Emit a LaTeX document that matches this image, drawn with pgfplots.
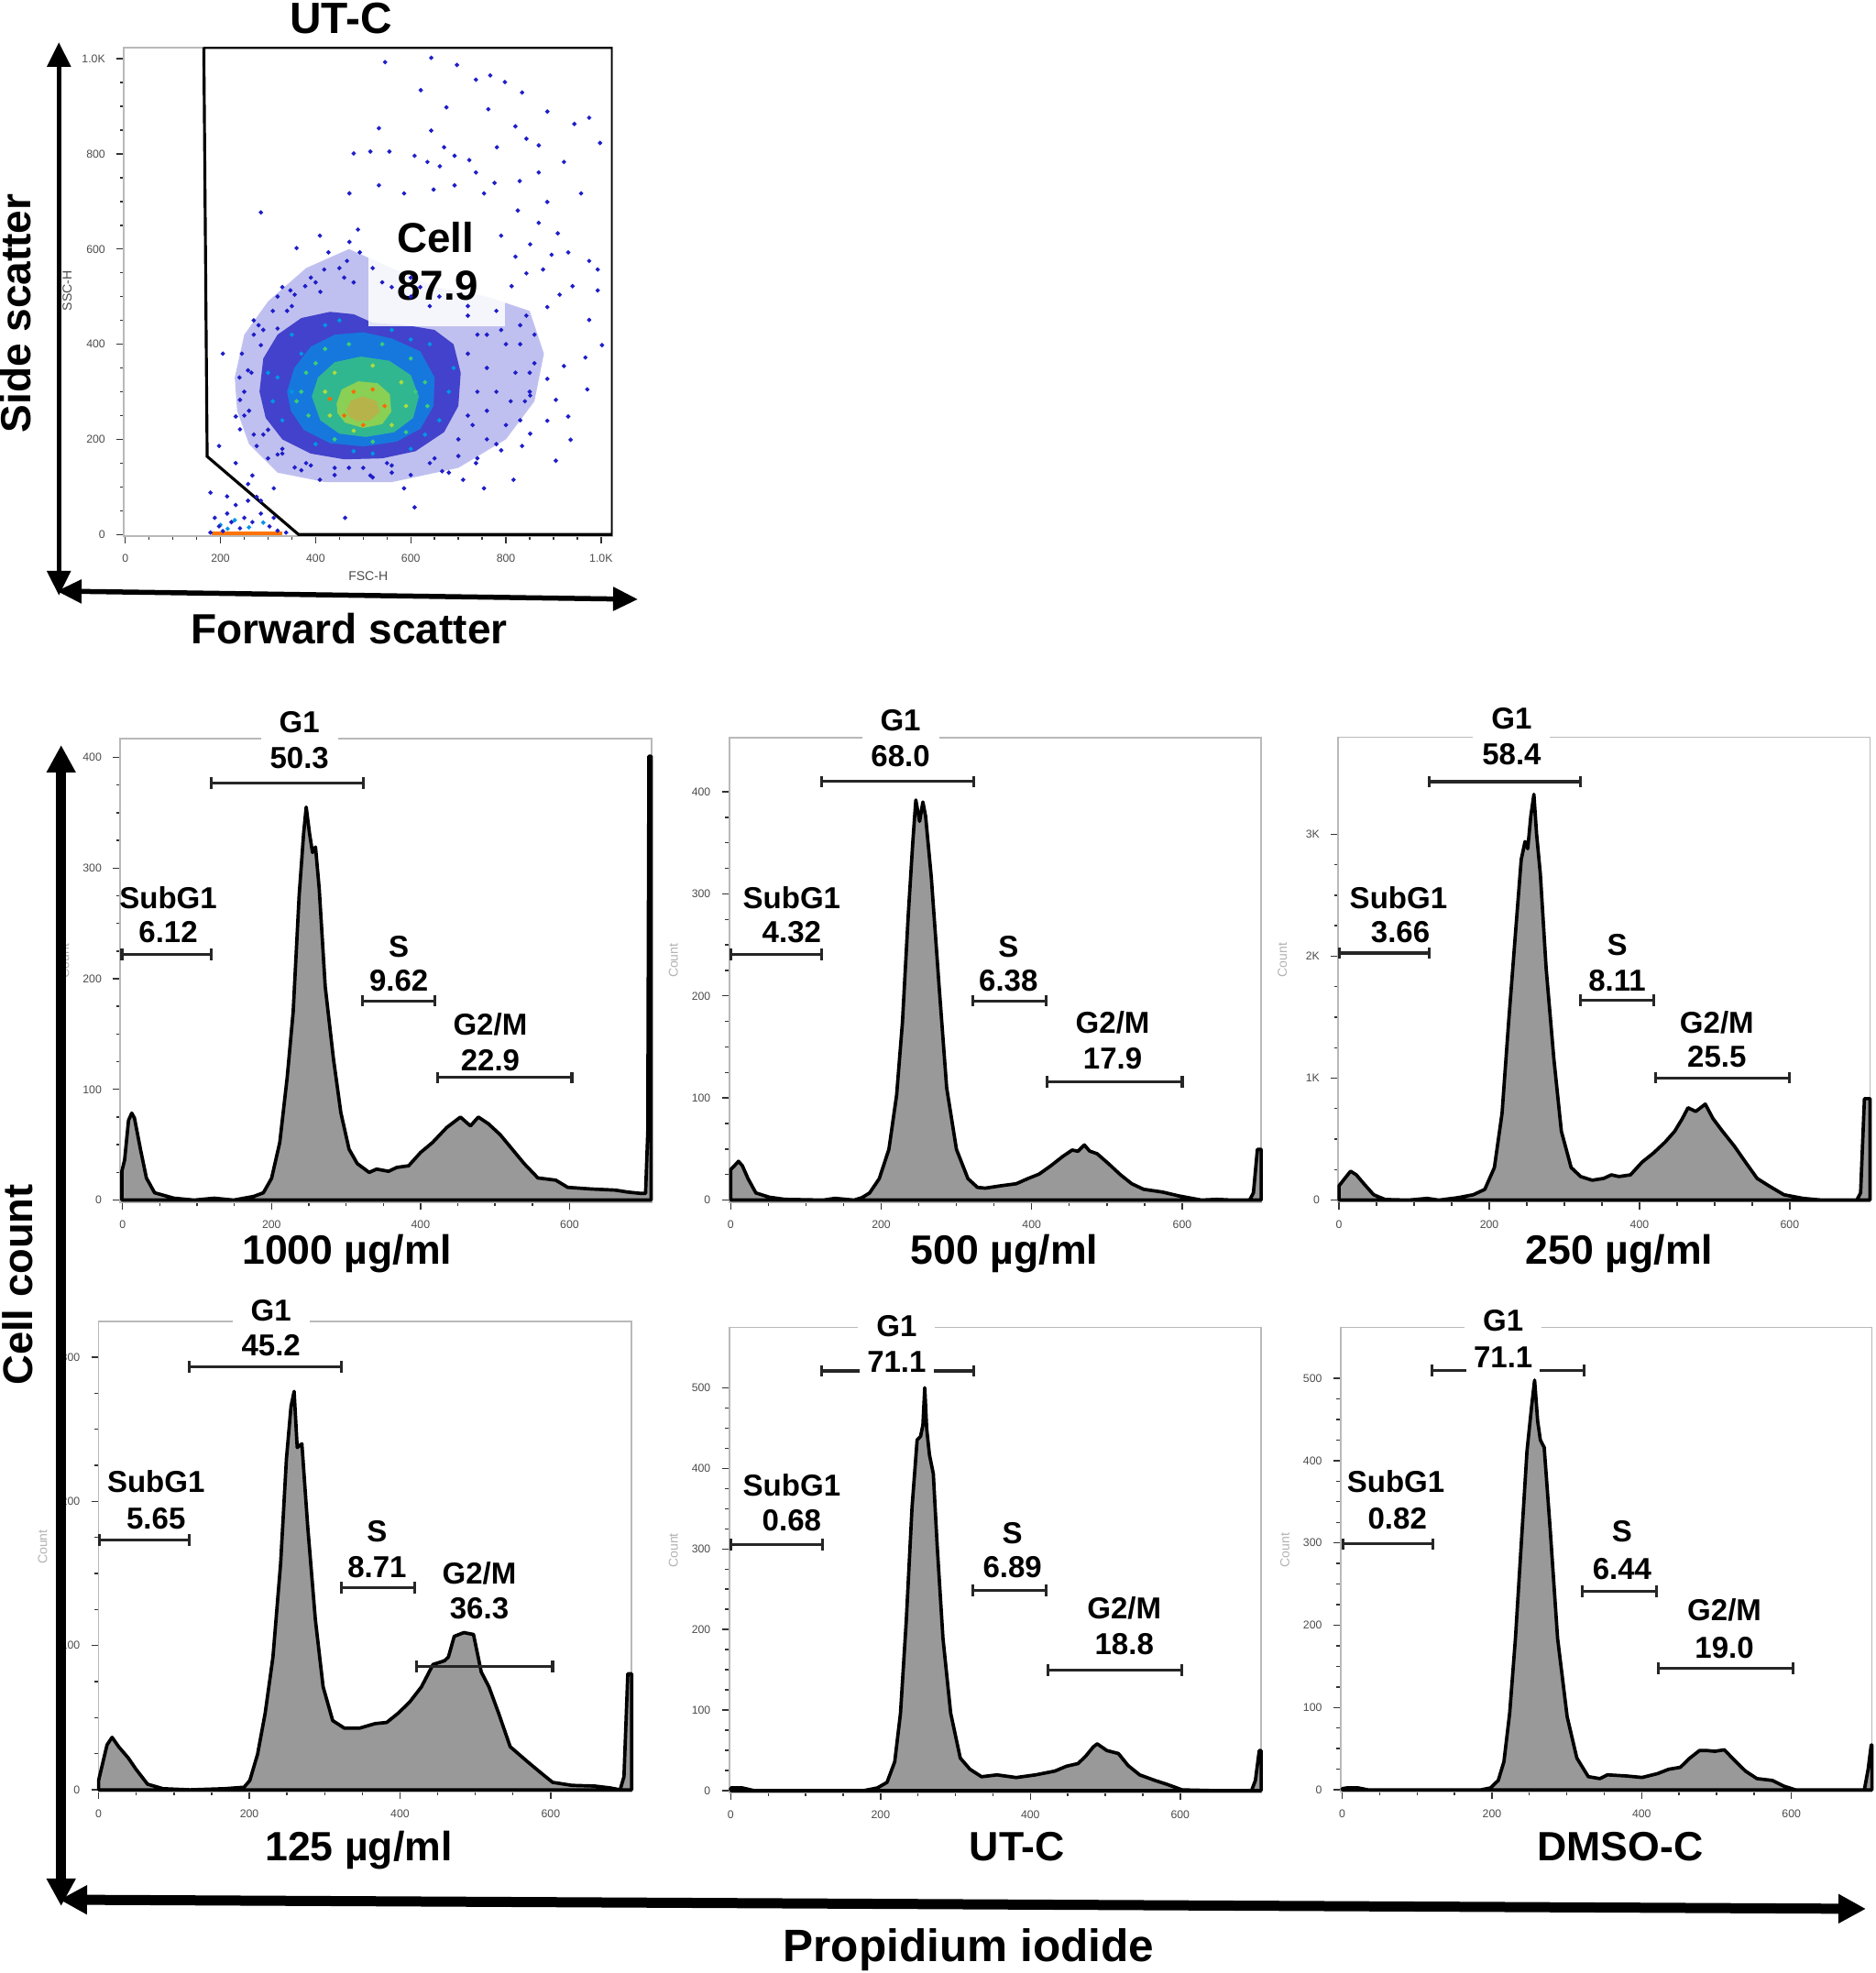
\documentclass[border=0pt]{standalone}
\usepackage{fontspec}
\setmainfont{Liberation Sans}
\usepackage{pgfplots}
\pgfplotsset{compat=1.18}
\usetikzlibrary{arrows.meta}
\definecolor{dotblue}{RGB}{30,30,200}
\definecolor{lvA}{RGB}{35,35,195}
\definecolor{lvB}{RGB}{0,150,230}
\definecolor{lvC}{RGB}{60,205,120}
\definecolor{lvD}{RGB}{175,220,60}
\definecolor{lvE}{RGB}{215,160,70}
\pgfplotsset{
 base/.style={scale only axis, tick pos=left, tick align=outside,
   axis line style={gray!55, line width=0.5pt},
   major tick length=0.08cm, minor tick length=0.045cm,
   tick style={gray!40!black, line width=0.4pt},
   ticklabel style={font=\fontsize{3.5}{4}\selectfont, text=gray!60!black},
   /pgf/number format/assume math mode=true,
   minor x tick num=3, minor y tick num=3},
 hist/.style={base, clip=false, xtick={0,200,400,600},
   ylabel={Count}, ylabel style={font=\fontsize{4}{5}\selectfont, text=gray!60, at={(axis description cs:-0.105,0.52)}, anchor=center}},
 histcurve/.style={draw=black, line width=1.05pt, fill=black!40, line join=round},
 gate/.style={black!85, line width=0.9pt, mark=|, mark size=1.8pt, mark options={solid}},
 dots/.style={only marks, mark=*, mark size=0.45pt},
}
\tikzset{
 glab/.style={font=\fontsize{9.4}{11}\selectfont\bfseries, inner sep=0.5pt},
 g1lab/.style={glab, fill=white, inner xsep=0.2cm, inner ysep=0.1cm},
}
\begin{document}
\begin{tikzpicture}
\path[use as bounding box] (0,0) rectangle (20.46,21.53);
% ---------------- scatter ----------------
\begin{axis}[base, at={(1.352cm,15.682cm)}, anchor=south west, width=5.331cm, height=5.331cm,
  xmin=-3, xmax=1024, ymin=-3, ymax=1024,
  xtick={0,200,400,600,800,1000}, xticklabels={0,200,400,600,800,1.0K},
  ytick={0,200,400,600,800,1000}, yticklabels={0,200,400,600,800,1.0K},
  xlabel={FSC-H}, ylabel={SSC-H},
  xlabel style={font=\fontsize{4}{5}\selectfont, text=gray!60!black, at={(axis description cs:0.5,-0.083)}, anchor=center},
  ylabel style={font=\fontsize{4}{5}\selectfont, text=gray!60!black, at={(axis description cs:-0.116,0.502)}, anchor=center}]
\addplot[draw=none, fill=dotblue, fill opacity=0.28] coordinates {(230,330)(250,420)(300,490)(380,560)(470,600)(560,560)(650,520)(760,500)(850,470)(880,380)(860,280)(800,200)(700,140)(560,110)(420,110)(320,130)(260,190)(235,260)(230,330)};
\addplot[draw=none, fill=lvA, fill opacity=0.8] coordinates {(282,300)(290,370)(320,420)(370,455)(430,468)(480,463)(520,445)(590,440)(650,430)(690,400)(705,340)(700,270)(670,215)(610,175)(540,160)(460,158)(390,170)(330,200)(295,245)(282,300)};
\addplot[draw=none, fill=lvB, fill opacity=0.65] coordinates {(340,300)(355,350)(390,395)(440,420)(500,425)(560,412)(620,385)(650,330)(648,270)(620,222)(570,195)(500,185)(430,192)(375,220)(348,260)(340,300)};
\addplot[draw=none, fill=lvC, fill opacity=0.75] coordinates {(392,290)(405,330)(440,362)(495,374)(555,365)(600,335)(617,290)(605,245)(565,215)(505,205)(450,212)(410,240)(392,290)};
\addplot[draw=none, fill=lvD, fill opacity=0.7] coordinates {(444,275)(455,305)(490,322)(530,318)(556,295)(559,258)(540,232)(500,224)(462,235)(446,255)(444,275)};
\addplot[draw=none, fill=lvE, fill opacity=0.6] coordinates {(465,262)(475,282)(500,290)(528,280)(535,258)(515,240)(488,238)(470,248)(465,262)};
\addplot[dots, lvB] coordinates {(320,330)(310,280)(350,420)(420,440)(560,430)(640,400)(680,300)(660,240)(600,180)(480,175)(400,190)(330,240)(600,410)(370,380)(690,350)(450,450)(520,170)(350,300)(630,210)(300,340)(200,20)(230,30)(260,15)(290,25)(215,12)};
\addplot[dots, lvC] coordinates {(370,300)(380,340)(420,390)(470,400)(540,400)(600,370)(630,320)(635,270)(590,215)(520,195)(440,200)(385,250)(360,280)(610,300)(400,360)};
\addplot[dots, lvD] coordinates {(420,300)(440,340)(520,355)(580,320)(590,270)(560,230)(480,218)(430,250)};
\addplot[dots, orange!80!red] coordinates {(480,300)(520,305)(545,270)(460,250)(500,230)(430,285)};
\addplot[dots, dotblue] coordinates {
(546,993)(643,1002)(697,987)(767,965)(737,956)(798,951)(621,934)(834,929)(675,898)(763,894)(820,858)(887,889)(944,863)(975,876)(533,854)(643,849)(670,814)(692,796)(723,787)(781,814)(843,832)(869,818)(998,823)(480,801)(515,805)(555,805)(608,796)(635,783)(661,774)(737,761)(776,739)(829,743)(922,783)(869,761)(471,717)(533,734)(586,717)(648,725)(692,734)(754,717)(958,717)(887,699)(825,681)(869,655)(909,633)(931,593)(975,575)(993,557)(940,522)(913,504)(887,478)(843,460)(975,451)(1002,398)(967,372)(922,354)(887,327)(851,292)(905,283)(931,248)(887,239)(834,186)(816,115)(754,97)(790,177)(608,57)(462,35)(586,97)(851,212)(936,199)(905,155)(971,305)(993,513)(409,628)(471,615)(493,593)(285,677)(360,602)(347,513)(378,522)(418,557)(466,575)(489,641)(820,584)(843,549)(878,557)(812,522)(790,628)(851,610)(896,588)(205,380)(241,283)(197,186)(232,150)(267,124)(312,97)(258,106)(214,80)(285,71)(356,141)(409,115)(515,124)(550,150)(666,133)(737,150)(710,115)(320,168)(276,186)(241,221)(232,248)(258,345)(285,398)(320,433)(356,504)(427,593)
(240,330)(260,260)(290,210)(330,170)(380,150)(440,140)(500,140)(560,145)(640,150)(700,165)(760,200)(800,230)(840,280)(850,340)(830,400)(790,430)(720,460)(640,480)(600,500)(540,530)(460,540)(400,530)(350,480)(310,470)(280,440)(330,520)(270,420)(620,520)(860,420)
(250,300)(245,380)(270,450)(320,500)(390,540)(450,560)(520,560)(600,540)(660,500)(720,480)(780,470)(830,440)(860,360)(850,300)(830,240)(780,190)(740,160)(680,130)(600,125)(520,120)(440,125)(370,135)(300,160)(270,210)(250,250)(265,340)(290,430)(340,470)(410,510)(480,530)(560,520)(740,420)(760,350)(780,300)(760,260)(730,230)(700,200)(650,160)(560,130)(470,140)(390,145)(330,180)(300,220)(720,380)(800,400)(820,340)(810,280)(740,300)(720,250)(760,420)
(179,88)(188,35)(197,17)(214,44)(232,62)(250,35)(267,26)(276,79)(285,44)(303,17)(241,13)(205,7)(258,71)(179,4)(223,26)(312,35)(320,8)(338,4)};
\addplot[orange!90!red, line width=1.2pt] coordinates {(182,2)(330,2)};
\addplot[draw=none, fill=white, fill opacity=0.85] coordinates {(511,438)(798,438)(798,700)(511,700)(511,438)};
\addplot[black, line width=0.9pt] coordinates {(165,1024)(172,164)(364,0)(1024,0)(1024,1024)(165,1024)};
\node[font=\fontsize{13}{15}\selectfont\bfseries] at (axis cs:652,624) {Cell};
\node[font=\fontsize{13}{15}\selectfont\bfseries] at (axis cs:657,523) {87.9};
\end{axis}
% ---------------- panel 1 ----------------
\begin{axis}[hist, at={(1.313cm,8.41cm)}, anchor=south west, width=5.796cm, height=5.061cm,
  xmin=-3, xmax=710, ymin=-2, ymax=417, ytick={0,100,200,300,400}]
\addplot[histcurve] coordinates {(-1,26)(2.7,36)(8,72)(12.3,78.6)(16,74)(24,46)(32,20)(43,6.6)(69,1.7)(96,0)(123,1.7)(149,0)(176,3.3)(189,6.6)(200,19.7)(211,52)(221,111)(229,170)(237,275)(243,331)(246.5,355)(251,331)(255,314)(259,319)(264,281)(272,193)(283,128)(293,79)(304,46)(315,33)(331,25)(341,28)(357,26)(368,29.5)(384,31)(400,43)(416,52)(435,65.5)(453.5,75)(467,67)(477.5,75)(491,69)(507,59)(523,46)(539,33)(557.5,20)(581.5,18)(597.5,11.5)(629.5,10)(661.5,9)(677.5,7.3)(696,6)(702,6)(705,62)(706.5,401)(709.5,401)(709.5,0)} \closedcycle;
\addplot[gate] coordinates {(119,377)(322.8,377)};
\addplot[gate] coordinates {(-1,222)(119,222)};
\addplot[gate] coordinates {(321.7,180)(418.8,180)};
\addplot[gate] coordinates {(422.5,110.7)(603,110.7)};
\node[g1lab] at (axis cs:237.4,432) {G1};
\node[glab] at (axis cs:237.4,399) {50.3};
\node[glab] at (axis cs:61.3,273.4) {SubG1};
\node[glab] at (axis cs:61.3,242.3) {6.12};
\node[glab] at (axis cs:370.8,229.2) {S};
\node[glab] at (axis cs:370.8,198) {9.62};
\node[glab] at (axis cs:493.5,158.8) {G2/M};
\node[glab] at (axis cs:493.5,126) {22.9};
\end{axis}
% ---------------- panel 2 ----------------
\begin{axis}[hist, at={(7.957cm,8.412cm)}, anchor=south west, width=5.804cm, height=5.068cm,
  xmin=-2, xmax=705, ymin=-2, ymax=453, ytick={0,100,200,300,400}]
\addplot[histcurve] coordinates {(0,30)(5,33.7)(10.3,38)(15.4,33.7)(23,21)(33.4,7)(51.3,2.8)(71.8,0.7)(123,0)(138.5,1.7)(164,0)(174.4,2.4)(184.6,7)(197.4,21)(210.2,49.7)(220.5,103)(228.2,174)(236,280)(242,351)(246,392)(251,371)(255.4,390)(259,376)(266.6,316)(277,209)(287,110)(300,49.7)(315.3,21)(328,12.4)(338.4,11.7)(359,14)(379.4,16)(394.8,21)(410,25.5)(425.6,33.7)(441,42.6)(453.8,49)(461.5,47.8)(470,54)(477,48)(487,45.4)(502.5,35.4)(518,24.8)(533,16)(548.6,10.6)(574.3,7.8)(594.8,4.2)(625.5,0)(646,0.7)(666.6,0)(689.6,0)(694.7,7)(700,49.7)(705,49.7)(705,0)} \closedcycle;
\addplot[gate] coordinates {(120.5,410)(323,410)};
\addplot[gate] coordinates {(0,240.6)(120.5,240.6)};
\addplot[gate] coordinates {(321.5,195.2)(419.4,195.2)};
\addplot[gate] coordinates {(420.4,116)(600,116)};
\node[g1lab] at (axis cs:225.6,470.3) {G1};
\node[glab] at (axis cs:225.6,434.8) {68.0};
\node[glab] at (axis cs:81,296.4) {SubG1};
\node[glab] at (axis cs:81,262.7) {4.32};
\node[glab] at (axis cs:369,248.5) {S};
\node[glab] at (axis cs:369,214.7) {6.38};
\node[glab] at (axis cs:507.6,173.9) {G2/M};
\node[glab] at (axis cs:507.6,138.4) {17.9};
\end{axis}
% ---------------- panel 3 ----------------
\begin{axis}[hist, at={(14.603cm,8.414cm)}, anchor=south west, width=5.802cm, height=5.072cm,
  xmin=-1, xmax=707, ymin=-15, ymax=3796, ytick={0,1000,2000,3000}, yticklabels={0,1K,2K,3K}, scaled y ticks=false]
\addplot[histcurve] coordinates {(0,118)(7.7,178)(15.3,237)(23,207)(33.2,133)(46,44)(61.3,5)(92,0)(117.4,14)(132.8,0)(158.3,20)(178.7,44)(194,88)(206.8,267)(217,712)(225.7,1455)(235,2198)(242.5,2792)(247.6,2940)(251.2,2881)(255.3,3149)(259.4,3327)(263,3000)(268,2673)(275.7,1901)(286,1158)(296,564)(309,267)(321.7,193)(337,163)(352.3,178)(362.5,207)(372.7,193)(388,207)(403.4,311)(418.6,386)(434,475)(446.8,564)(457,668)(464.6,757)(474.9,727)(487.6,787)(497.9,668)(510.6,564)(526,445)(541.2,311)(556.6,178)(572,118)(592.3,44)(617.8,14)(643.4,0)(689.3,0)(694.4,59)(699.5,832)(707,832)(707,0)} \closedcycle;
\addplot[gate] coordinates {(120,3431)(321.7,3431)};
\addplot[gate] coordinates {(0,2026)(120,2026)};
\addplot[gate] coordinates {(321.7,1639)(418.6,1639)};
\addplot[gate] coordinates {(421.2,1003)(600,1003)};
\node[g1lab] at (axis cs:229.8,3951) {G1};
\node[glab] at (axis cs:229.8,3654) {58.4};
\node[glab] at (axis cs:79.1,2480) {SubG1};
\node[glab] at (axis cs:81.7,2198) {3.66};
\node[glab] at (axis cs:370.2,2094) {S};
\node[glab] at (axis cs:370.2,1797) {8.11};
\node[glab] at (axis cs:503,1455) {G2/M};
\node[glab] at (axis cs:503,1173) {25.5};
\end{axis}
% ---------------- panel 4 ----------------
\begin{axis}[hist, at={(1.076cm,1.983cm)}, anchor=south west, width=5.816cm, height=5.127cm,
  xmin=0, xmax=707.5, ymin=-1, ymax=324.7, ytick={0,100,200,300}]
\addplot[histcurve] coordinates {(0,6.5)(3.5,14.3)(11.2,31.2)(17.9,36.4)(26.6,29.9)(39.4,22.1)(49.6,14.3)(65,3.9)(85.5,0.8)(121.3,0)(167.4,0.8)(193,1.8)(200.7,6.5)(211,24.7)(221.1,53.2)(231.4,92)(241.6,157)(249.3,229.5)(255.4,265.8)(259.5,276.2)(263.6,237.3)(269.8,239.9)(277.5,182.9)(287.7,118)(298,71.4)(310.7,48)(326.1,42.8)(346.6,42.8)(367,45.9)(382.4,46.7)(397.8,53.2)(413.1,61)(428.5,71.4)(443.9,86.9)(459.2,89.5)(464.3,92.1)(472,106.4)(484.8,109)(497.6,107.7)(507.9,81.7)(518.1,71.4)(530.9,53.2)(546.3,29.9)(569.3,19.5)(587.2,11.7)(602.6,5.2)(628.2,3.1)(658.9,2.6)(679.4,1.3)(692.2,0)(697.3,9.1)(702.4,80.4)(707.5,80.4)(707.5,0)} \closedcycle;
\addplot[gate] coordinates {(120.3,293.1)(322,293.1)};
\addplot[gate] coordinates {(1,173)(120.3,173)};
\addplot[gate] coordinates {(322,140.1)(419.3,140.1)};
\addplot[gate] coordinates {(422.4,85.6)(602.6,85.6)};
\node[g1lab] at (axis cs:228.8,332) {G1};
\node[glab] at (axis cs:228.8,307.8) {45.2};
\node[glab] at (axis cs:76.2,214) {SubG1};
\node[glab] at (axis cs:76.2,188) {5.65};
\node[glab] at (axis cs:369.6,179) {S};
\node[glab] at (axis cs:369.6,154.3) {8.71};
\node[glab] at (axis cs:505.3,150.4) {G2/M};
\node[glab] at (axis cs:505.3,125.8) {36.3};
\end{axis}
% ---------------- panel 5 ----------------
\begin{axis}[hist, at={(7.957cm,1.973cm)}, anchor=south west, width=5.804cm, height=5.072cm,
  xmin=-2, xmax=708, ymin=-2, ymax=575, ytick={0,100,200,300,400,500}]
\addplot[histcurve] coordinates {(0,3.3)(15.5,3.3)(31,0)(72,0)(124,0)(177.7,0)(195.7,3.3)(208.6,10.2)(218.9,35.8)(226.6,96.1)(234.4,212.2)(242,351.6)(248.8,435.2)(253.4,439.8)(256.5,453.7)(259,500.2)(261.6,449)(265.3,416.6)(270.4,393.4)(275.5,305.1)(283.3,189)(293.6,96.1)(306.4,40.4)(319.3,26.5)(334.8,17.2)(355.4,19.5)(381.1,16.2)(406.8,19.5)(432.6,24.2)(448,30.2)(463.5,33.5)(473.8,42.7)(484,54.3)(489.2,58)(502.1,49.7)(517.5,46)(530.4,31.1)(545.9,19.5)(566.5,12.5)(581.9,7.9)(602.5,0.9)(643.7,0)(695.2,0)(700.3,12.5)(705.5,49.7)(708,49.7)(708,0)} \closedcycle;
\addplot[gate] coordinates {(121,521)(324.5,521)};
\addplot[gate] coordinates {(0,305.1)(122.6,305.1)};
\addplot[gate] coordinates {(323.4,248.5)(421.3,248.5)};
\addplot[gate] coordinates {(423.3,149.5)(602.5,149.5)};
\node[g1lab] at (axis cs:221.5,576.8) {G1};
\node[glab, fill=white, inner xsep=0.08cm, inner ysep=0.04cm] at (axis cs:221.5,532.7) {71.1};
\node[glab] at (axis cs:81.4,379.4) {SubG1};
\node[glab] at (axis cs:81.4,335.3) {0.68};
\node[glab] at (axis cs:376,319) {S};
\node[glab] at (axis cs:376,277.3) {6.89};
\node[glab] at (axis cs:525.3,226.2) {G2/M};
\node[glab] at (axis cs:525.3,182.1) {18.8};
\end{axis}
% ---------------- panel 6 ----------------
\begin{axis}[hist, at={(14.629cm,1.981cm)}, anchor=south west, width=5.797cm, height=5.065cm,
  xmin=-2, xmax=707.6, ymin=-2, ymax=562, ytick={0,100,200,300,400,500}]
\addplot[histcurve] coordinates {(0,1.4)(6.1,2.3)(21.5,2.3)(34.3,0)(62.4,0)(113.6,0)(185.3,0)(198.1,2.3)(208.4,11.4)(216,34.1)(223.7,93.2)(231.4,184.1)(239.1,297.8)(246.8,411.4)(253,466)(257,497.8)(261.1,447.8)(264.7,425.1)(269.8,416)(277.5,320.5)(287.7,184.1)(300.5,88.7)(313.4,38.6)(328.7,16)(344.1,13.6)(354.3,18.2)(379.9,16.8)(400.4,15)(420.9,19.6)(436.3,25)(451.6,27.3)(464.4,38.6)(477.2,47.7)(487.5,47.7)(497.7,46.8)(510.5,48.6)(523.3,36.4)(538.7,22.7)(554,13.6)(574.5,11.4)(589.9,4.5)(605.3,0)(666.7,0)(697.4,0)(702.5,25)(706.6,54.5)(707.6,54.5)(707.6,0)} \closedcycle;
\addplot[gate] coordinates {(120.3,509.2)(323.6,509.2)};
\addplot[gate] coordinates {(1,298.7)(121.3,298.7)};
\addplot[gate] coordinates {(321,241)(419.9,241)};
\addplot[gate] coordinates {(421.9,147.8)(602.7,147.8)};
\node[g1lab] at (axis cs:215,570.5) {G1};
\node[glab, fill=white, inner xsep=0.08cm, inner ysep=0.04cm] at (axis cs:215,525) {71.1};
\node[glab] at (axis cs:71.6,375) {SubG1};
\node[glab] at (axis cs:73.7,329.6) {0.82};
\node[glab] at (axis cs:373.8,313.7) {S};
\node[glab] at (axis cs:373.8,268.2) {6.44};
\node[glab] at (axis cs:510.5,218.2) {G2/M};
\node[glab] at (axis cs:510.5,172.8) {19.0};
\end{axis}
% ---------------- arrows & big labels ----------------
\draw[line width=0.055cm, {Triangle[length=0.27cm,width=0.25cm]}-{Triangle[length=0.27cm,width=0.25cm]}] (0.643,15.03) -- (0.643,21.07);
\draw[line width=0.055cm, {Triangle[length=0.27cm,width=0.25cm]}-{Triangle[length=0.27cm,width=0.25cm]}] (0.62,15.08) -- (6.96,14.99);
\draw[line width=0.11cm, {Triangle[length=0.3cm,width=0.3cm]}-{Triangle[length=0.3cm,width=0.3cm]}] (0.667,0.73) -- (0.667,13.40);
\draw[line width=0.11cm, {Triangle[length=0.3cm,width=0.3cm]}-{Triangle[length=0.3cm,width=0.3cm]}] (0.65,0.80) -- (20.36,0.70);
\node[font=\fontsize{13.6}{16}\selectfont\bfseries, anchor=base] at (3.72,21.163) {UT-C};
\node[font=\fontsize{13.1}{16}\selectfont\bfseries, anchor=base, rotate=90] at (0.33,18.11) {Side scatter};
\node[font=\fontsize{13.1}{16}\selectfont\bfseries, anchor=base] at (3.81,14.50) {Forward scatter};
\node[font=\fontsize{12.9}{16}\selectfont\bfseries, anchor=base, rotate=90] at (0.35,7.51) {Cell count};
\node[font=\fontsize{14.1}{16}\selectfont\bfseries, anchor=base] at (10.57,0.13) {Propidium iodide};
\node[font=\fontsize{12.7}{15}\selectfont\bfseries, anchor=base] at (3.788,7.73) {1000 µg/ml};
\node[font=\fontsize{12.7}{15}\selectfont\bfseries, anchor=base] at (10.96,7.73) {500 µg/ml};
\node[font=\fontsize{12.7}{15}\selectfont\bfseries, anchor=base] at (17.67,7.73) {250 µg/ml};
\node[font=\fontsize{12.7}{15}\selectfont\bfseries, anchor=base] at (3.915,1.22) {125 µg/ml};
\node[font=\fontsize{12.7}{15}\selectfont\bfseries, anchor=base] at (11.10,1.22) {UT-C};
\node[font=\fontsize{12.7}{15}\selectfont\bfseries, anchor=base] at (17.68,1.22) {DMSO-C};
\end{tikzpicture}
\end{document}
